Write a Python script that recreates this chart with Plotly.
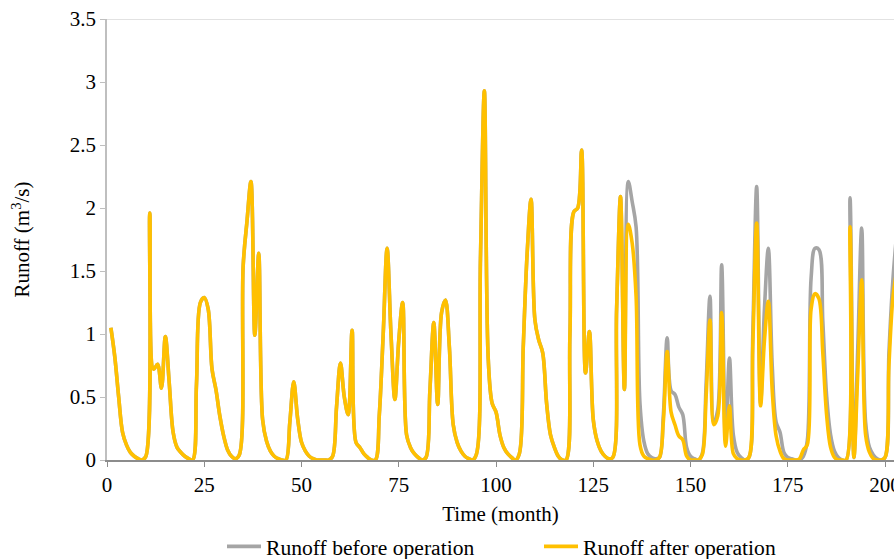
import plotly.graph_objects as go

# Months 1..203 (monthly time index)
months = list(range(1, 204))

# Runoff values shared by both series (months 1-132)
runoff_common = [
    1.05, 0.82, 0.50, 0.22, 0.12, 0.06, 0.03, 0.01, 0.00, 0.03,
    1.96, 0.72, 0.76, 0.57, 0.98, 0.61, 0.22, 0.10, 0.06, 0.03,
    0.01, 0.00, 0.60, 1.25, 1.29, 1.20, 0.72, 0.56, 0.35, 0.19,
    0.08, 0.03, 0.01, 0.04, 1.54, 1.90, 2.21, 0.99, 1.64, 0.32,
    0.15, 0.07, 0.03, 0.01, 0.00, 0.00, 0.30, 0.62, 0.33, 0.14,
    0.07, 0.03, 0.01, 0.00, 0.00, 0.00, 0.00, 0.03, 0.42, 0.77,
    0.50, 0.36, 1.03, 0.14, 0.10, 0.05, 0.02, 0.00, 0.00, 0.36,
    1.00, 1.68, 1.00, 0.48, 0.95, 1.25, 0.20, 0.10, 0.05, 0.02,
    0.00, 0.02, 0.55, 1.09, 0.44, 1.17, 1.27, 0.90, 0.28, 0.14,
    0.07, 0.03, 0.01, 0.00, 0.05, 1.60, 2.93, 0.80, 0.45, 0.38,
    0.20, 0.10, 0.05, 0.02, 0.00, 0.05, 0.90, 1.64, 2.07, 1.11,
    0.95, 0.85, 0.45, 0.20, 0.10, 0.03, 0.00, 0.00, 1.00, 1.97,
    2.00, 2.46, 0.69, 1.02, 0.32, 0.15, 0.07, 0.03, 0.01, 0.02,
    1.20, 2.09,
]

# Months 133-203, before operation
before_tail = [
    0.56, 2.21, 2.05, 1.85, 0.45, 0.15, 0.05, 0.02, 0.01, 0.02,
    0.35, 0.97, 0.55, 0.52, 0.42, 0.36, 0.10, 0.03, 0.01, 0.00,
    0.05, 0.60, 1.30, 0.30, 0.40, 1.55, 0.15, 0.81, 0.20, 0.06,
    0.02, 0.00, 0.02, 1.00, 2.17, 0.45, 1.20, 1.68, 0.75, 0.30,
    0.22, 0.06, 0.02, 0.01, 0.00, 0.00, 0.03, 0.15, 1.45, 1.68,
    1.67, 1.10, 0.50, 0.20, 0.07, 0.02, 0.00, 0.00, 2.08, 0.02,
    0.90, 1.84, 0.30, 0.10, 0.04, 0.01, 0.00, 0.02, 0.85, 1.42,
    1.80,
]

# Months 133-203, after operation
after_tail = [
    0.56, 1.87, 1.72, 1.30, 0.12, 0.03, 0.01, 0.00, 0.00, 0.02,
    0.30, 0.86, 0.38, 0.28, 0.19, 0.16, 0.03, 0.00, 0.00, 0.00,
    0.04, 0.50, 1.11, 0.28, 0.35, 1.17, 0.11, 0.43, 0.05, 0.01,
    0.00, 0.00, 0.02, 0.90, 1.88, 0.43, 0.95, 1.26, 0.55, 0.19,
    0.07, 0.01, 0.00, 0.00, 0.00, 0.01, 0.08, 0.12, 1.20, 1.32,
    1.28, 0.85, 0.35, 0.10, 0.02, 0.00, 0.00, 0.00, 1.85, 0.02,
    0.70, 1.43, 0.20, 0.06, 0.01, 0.00, 0.00, 0.02, 0.75, 1.28,
    1.50,
]

runoff_before = runoff_common + before_tail
runoff_after = runoff_common + after_tail

x_ticks = [0, 25, 50, 75, 100, 125, 150, 175, 200]
y_ticks = [0, 0.5, 1, 1.5, 2, 2.5, 3, 3.5]

FONT = "Liberation Serif, Times New Roman, serif"

fig = go.Figure()
fig.add_trace(go.Scatter(
    x=months, y=runoff_before, mode="lines",
    name="Runoff before operation", legend="legend",
    line=dict(color="#a5a5a5", width=3.6, shape="spline", smoothing=1),
))
fig.add_trace(go.Scatter(
    x=months, y=runoff_after, mode="lines",
    name="Runoff after operation", legend="legend2",
    line=dict(color="#ffc000", width=3.6, shape="spline", smoothing=1),
))

legend_common = dict(
    orientation="h", yanchor="middle", y=-0.197, xanchor="left",
    font=dict(family=FONT, size=21.6, color="black"),
    bgcolor="rgba(0,0,0,0)", borderwidth=0, itemwidth=34,
)

fig.update_layout(
    width=894, height=559,
    margin=dict(l=107, r=0, t=19, b=99, autoexpand=False),
    paper_bgcolor="white", plot_bgcolor="white",
    font=dict(family=FONT, size=21, color="black"),
    showlegend=True,
    legend=dict(legend_common, x=(222 - 107) / 787),
    legend2=dict(legend_common, x=(539 - 107) / 787),
    xaxis=dict(
        range=[0, 202.3], tickvals=x_ticks, ticktext=[str(v) for v in x_ticks],
        showgrid=False, zeroline=False,
        showline=True, linecolor="#8c8c8c", linewidth=1.5,
        ticks="outside", ticklen=5, tickcolor="#8c8c8c",
        tickfont=dict(family=FONT, size=21), ticklabeloverflow="allow",
        automargin=False,
        title=dict(text="Time (month)", font=dict(family=FONT, size=21), standoff=10),
    ),
    yaxis=dict(
        range=[0, 3.5], tickvals=y_ticks, ticktext=["0", "0.5", "1", "1.5", "2", "2.5", "3", "3.5"],
        showgrid=False, zeroline=False,
        showline=True, linecolor="#bfbfbf", linewidth=1.5,
        ticks="outside", ticklen=5, tickcolor="#bfbfbf",
        tickfont=dict(family=FONT, size=21), automargin=False,
        title=dict(text="Runoff (m<sup>3</sup>/s)", font=dict(family=FONT, size=21), standoff=34),
    ),
    shapes=[dict(type="line", xref="paper", yref="y", x0=0, x1=1, y0=3.5, y1=3.5,
                 line=dict(color="#d9d9d9", width=1.5))],
)

fig.write_html("out.html")
